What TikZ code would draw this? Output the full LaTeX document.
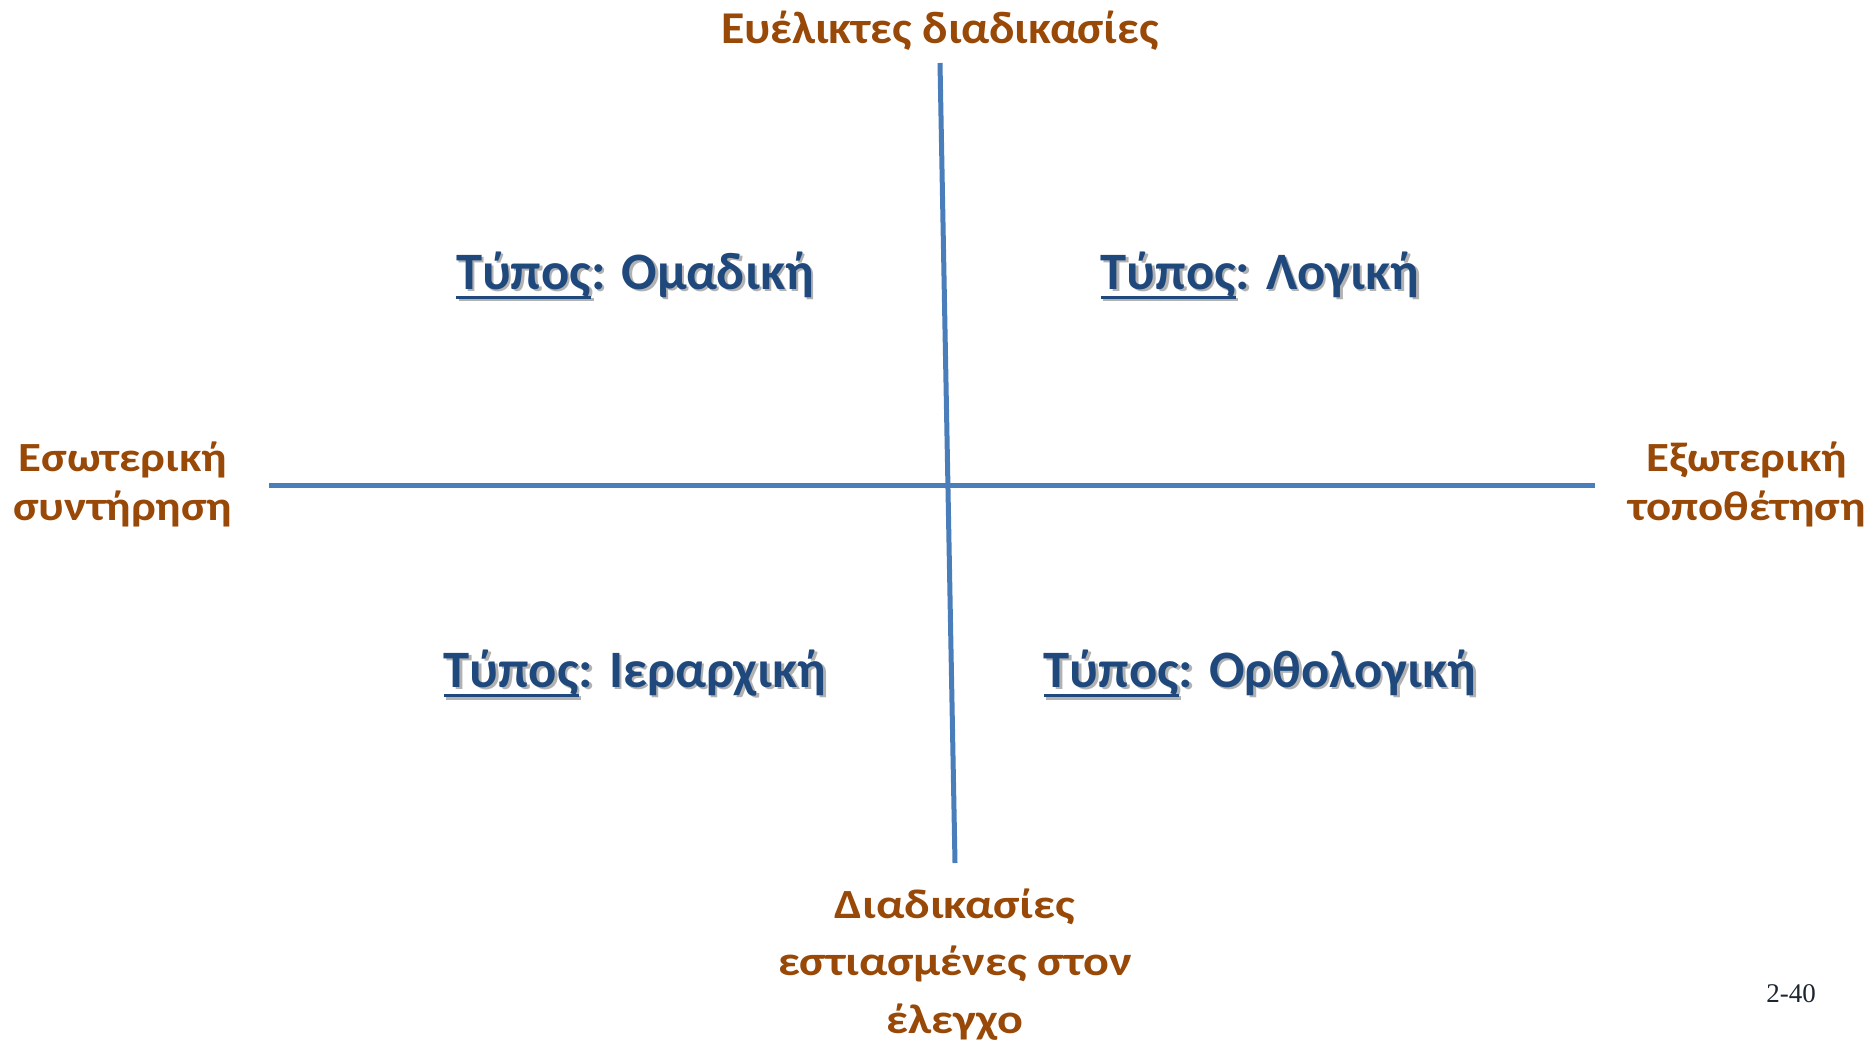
\documentclass[tikz,border=0pt]{standalone}
\usepackage{fontspec}
\setmainfont{Carlito}
\newfontfamily\titlefont[FakeStretch=1.05]{Carlito}
\newfontfamily\sidefont[FakeStretch=1.13]{Carlito}
\newfontfamily\bottomfont[FakeStretch=1.16]{Carlito}
\newfontfamily\pagefont{Liberation Serif}
\definecolor{axisbrown}{HTML}{984807}
\definecolor{typeblue}{HTML}{1F497D}
\definecolor{axisline}{HTML}{4A7EBB}
\definecolor{pagenum}{HTML}{1C2530}
\newcommand{\ulword}[1]{\setbox0\hbox{#1}\rlap{\rule[-0.19em]{\wd0}{0.065em}}\box0}
\tikzset{
  x=1bp, y=-1bp,
  brownlabel/.style={text=axisbrown, inner sep=0pt, align=center, anchor=base},
  typelabel/.style={text=typeblue, font=\bfseries\fontsize{52.6bp}{63bp}\selectfont, inner sep=0pt, anchor=base},
  shadowtext/.style={text=black!30},
  axisstroke/.style={draw=axisline, line width=5bp},
}
\begin{document}
\begin{tikzpicture}
\useasboundingbox (0,0) rectangle (1875,1043);
% axes
\coordinate (vtop) at (940,63);
\coordinate (vbot) at (955,863);
\coordinate (hleft) at (269,485.5);
\coordinate (hright) at (1595,485.5);
\draw[axisstroke] (vtop) -- (vbot);
\draw[axisstroke] (hleft) -- (hright);
% axis labels
\node[brownlabel, font=\titlefont\bfseries\fontsize{45.5bp}{55bp}\selectfont] (top) at (940,43) {Ευέλικτες διαδικασίες};
\node[brownlabel, font=\sidefont\bfseries\fontsize{41.5bp}{49bp}\selectfont] (left) at (123,520) {Εσωτερική\\συντήρηση};
\node[brownlabel, font=\sidefont\bfseries\fontsize{41.5bp}{49bp}\selectfont] (right) at (1747,520) {Εξωτερική\\τοποθέτηση};
\node[brownlabel, font=\bottomfont\bfseries\fontsize{41.5bp}{57.5bp}\selectfont] (bottom) at (955,1033) {Διαδικασίες\\εστιασμένες στον\\έλεγχο};
% type labels with shadow
\foreach \px/\py/\txt [count=\i] in {635/289/Ομαδική, 1260/289/Λογική, 635/687/Ιεραρχική, 1260/687/Ορθολογική}{
  \node[typelabel, shadowtext] at (\px+2.5,\py+2.5) {\ulword{Τύπος}: \txt};
  \node[typelabel] (type\i) at (\px,\py) {\ulword{Τύπος}: \txt};
}
\node[text=pagenum, font=\pagefont\fontsize{27bp}{32bp}\selectfont, inner sep=0pt, anchor=base] (page) at (1791,1002) {2-40};
\end{tikzpicture}
\end{document}
